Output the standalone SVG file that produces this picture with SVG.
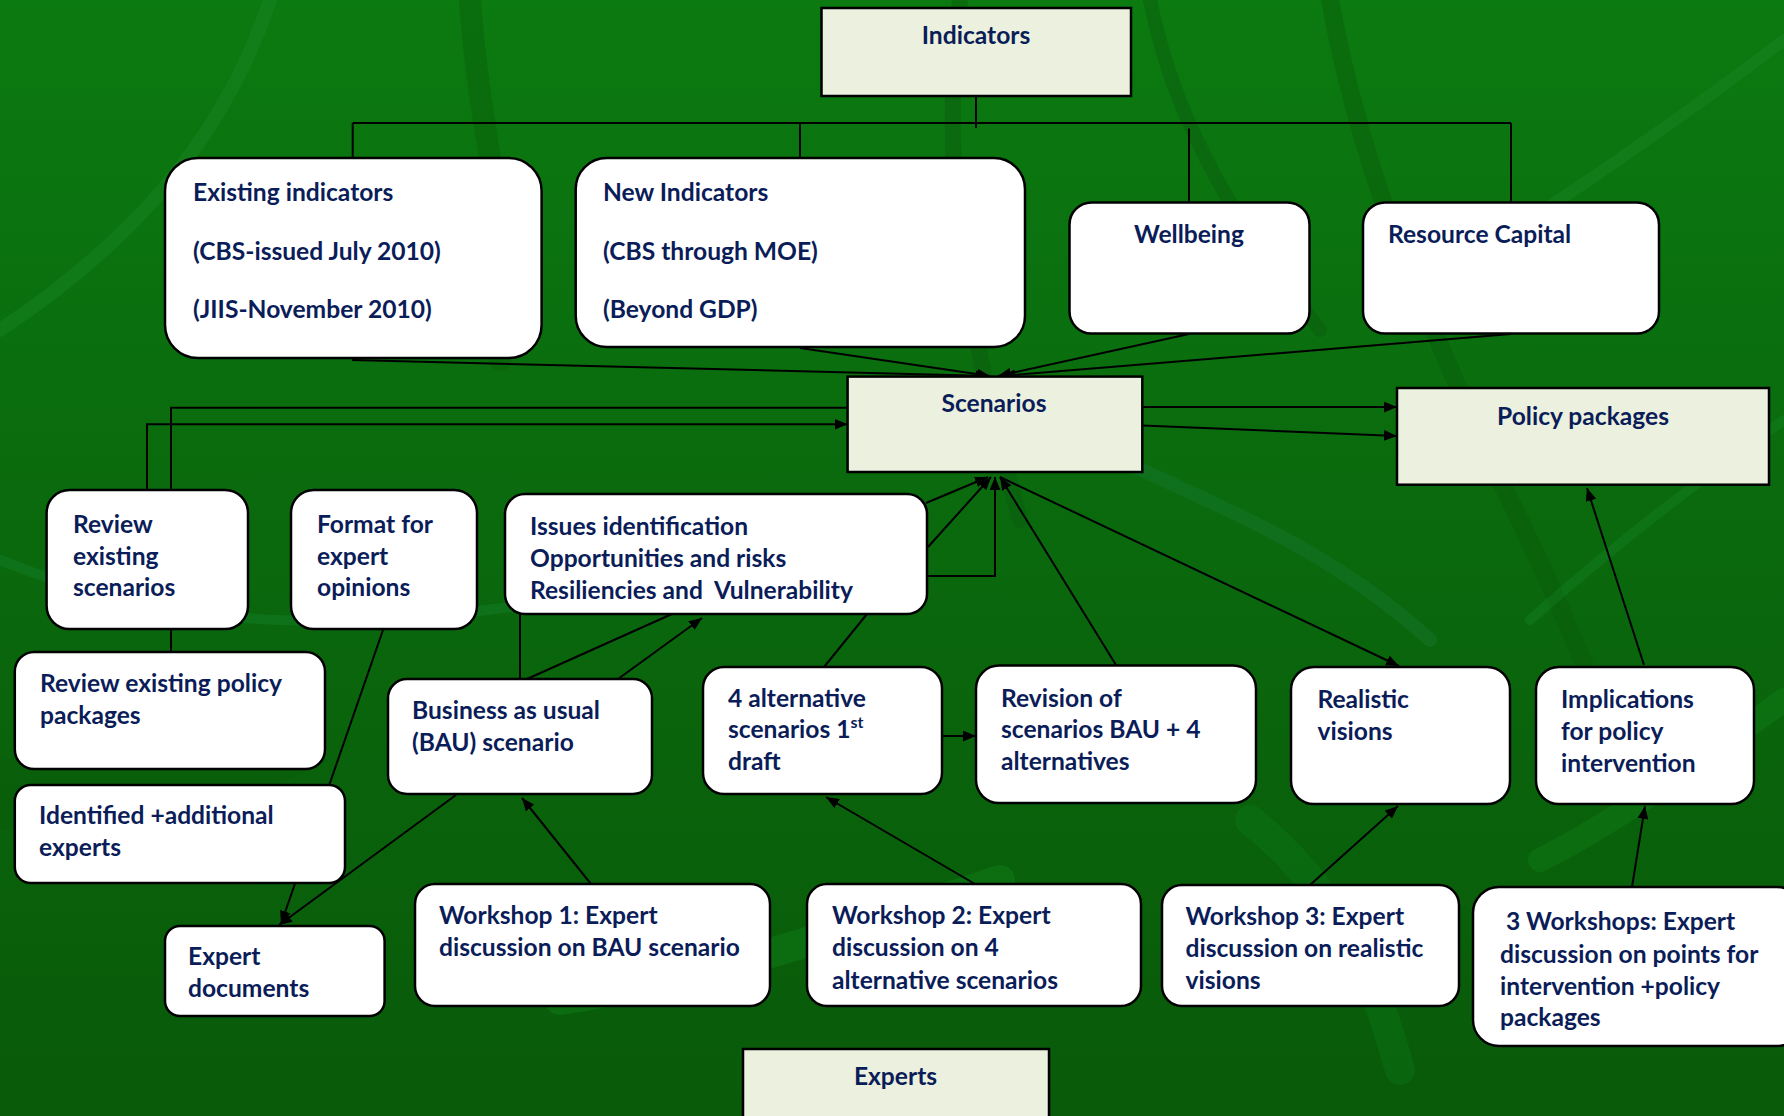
<svg xmlns="http://www.w3.org/2000/svg" width="1784" height="1116" viewBox="0 0 1784 1116">
<defs>
<linearGradient id="bg" x1="0" y1="0" x2="0" y2="1">
<stop offset="0" stop-color="#0b7a10"/>
<stop offset="0.5" stop-color="#0a680d"/>
<stop offset="1" stop-color="#095a09"/>
</linearGradient>
<marker id="arr" viewBox="0 0 12 10" refX="12" refY="5" markerWidth="13" markerHeight="11" markerUnits="userSpaceOnUse" orient="auto">
<path d="M0,0 L12,5 L0,10 Z" fill="#000"/>
</marker>
<style>
.t{font-family:"Lato","Open Sans","Liberation Sans",sans-serif;font-weight:700;font-size:24.6px;fill:#0b1d58}
.c{text-anchor:middle}
.sq{fill:#ebf1de;stroke:#000;stroke-width:2.5}
.rr{fill:#fff;stroke:#000;stroke-width:2.5}
.ln{fill:none;stroke:#000;stroke-width:2}
.a{marker-end:url(#arr)}
.leaf{fill:none;stroke-linecap:round}
</style>
</defs>
<g id="background">
<rect width="1784" height="1116" fill="url(#bg)"/>
<path class="leaf" d="M0,330 C120,250 220,150 270,0" stroke="#1c8a2c" stroke-width="14" opacity="0.35"/>
<path class="leaf" d="M470,0 C480,150 520,260 500,360" stroke="#0a5c0a" stroke-width="22" opacity="0.4"/>
<path class="leaf" d="M960,0 C940,160 960,300 1020,520" stroke="#0a5a10" stroke-width="16" opacity="0.45"/>
<path class="leaf" d="M1150,0 C1180,150 1260,250 1320,330" stroke="#0a5a10" stroke-width="14" opacity="0.45"/>
<path class="leaf" d="M1330,0 C1360,160 1400,260 1500,480 C1560,600 1600,700 1620,760" stroke="#0a5a0a" stroke-width="18" opacity="0.4"/>
<path class="leaf" d="M1784,40 C1680,120 1560,200 1440,280" stroke="#1c8a2c" stroke-width="12" opacity="0.35"/>
<path class="leaf" d="M1100,450 C1200,500 1320,540 1430,640" stroke="#1a7a3a" stroke-width="14" opacity="0.35"/>
<path class="leaf" d="M1784,420 C1700,480 1620,540 1530,620" stroke="#1c8a2c" stroke-width="10" opacity="0.3"/>
<path d="M0,760 L180,740 L330,760 L200,820 L0,830 Z" fill="#0a5a0a" opacity="0.35"/>
<path class="leaf" d="M0,560 C150,620 300,640 560,600" stroke="#1a8a3a" stroke-width="10" opacity="0.3"/>
<path class="leaf" d="M560,1000 C700,980 850,930 1000,880" stroke="#138a1e" stroke-width="30" opacity="0.35"/>
<path class="leaf" d="M1250,820 C1350,900 1380,1000 1400,1070" stroke="#0c7a1a" stroke-width="30" opacity="0.35"/>
<path class="leaf" d="M1784,700 C1700,760 1620,820 1540,860" stroke="#138a1e" stroke-width="24" opacity="0.3"/>
</g>
<g id="connectors">
<path class="ln" d="M976,96 V128"/>
<path class="ln" d="M352.7,123 H1511"/>
<path class="ln" d="M352.7,123 V158"/>
<path class="ln" d="M800,123 V158"/>
<path class="ln" d="M1189,128.5 V202.5"/>
<path class="ln" d="M1511,123 V202.5"/>
<path class="ln a" d="M352,360 L989,376"/>
<path class="ln a" d="M800,348 L990,376"/>
<path class="ln a" d="M1189,334 L998,376"/>
<path class="ln a" d="M1511,334 L1002,376"/>
<path class="ln a" d="M1142,407 L1397,407"/>
<path class="ln a" d="M1142,425.5 L1397,436"/>
<path class="ln a" d="M147,490 V424.3 H847.6"/>
<path class="ln" d="M171,652 V407.7 H847.6"/>
<path class="ln a" d="M383,630 L281,924"/>
<path class="ln a" d="M456,795 L279,925"/>
<path class="ln" d="M520,679 V614"/>
<path class="ln" d="M527,679 L672,614"/>
<path class="ln a" d="M618,679 L702,618"/>
<path class="ln" d="M824,667 L867,614"/>
<path class="ln a" d="M926,503 L988,477"/>
<path class="ln a" d="M928,547 L991,477"/>
<path class="ln a" d="M928,576 H995 V477"/>
<path class="ln a" d="M1116,665 L1000,477"/>
<path class="ln a" d="M1000,477 L1399,666"/>
<path class="ln a" d="M1644,665 L1587,488"/>
<path class="ln a" d="M942,736 L976,736"/>
<path class="ln a" d="M591,884 L522,798"/>
<path class="ln a" d="M975,884 L826,797"/>
<path class="ln a" d="M1310,885 L1398,806"/>
<path class="ln a" d="M1632,887 L1645,806"/>
</g>
<g id="indicators">
<rect class="sq" x="821.5" y="8" width="309.5" height="88"/>
<text class="t c" x="976" y="43.5">Indicators</text>
</g>
<g id="existing-indicators">
<rect class="rr" x="165" y="158" width="376.6" height="200" rx="33"/>
<text class="t" x="193" y="200.5">Existing indicators</text>
<text class="t" x="193" y="259.5">(CBS-issued July 2010)</text>
<text class="t" x="193" y="317.5">(JIIS-November 2010)</text>
</g>
<g id="new-indicators">
<rect class="rr" x="575.7" y="158" width="449.3" height="189" rx="31"/>
<text class="t" x="603" y="200.5">New Indicators</text>
<text class="t" x="603" y="259.5">(CBS through MOE)</text>
<text class="t" x="603" y="317.5">(Beyond GDP)</text>
</g>
<g id="wellbeing">
<rect class="rr" x="1069.5" y="202.5" width="240" height="131" rx="22"/>
<text class="t c" x="1189" y="242.5">Wellbeing</text>
</g>
<g id="resource-capital">
<rect class="rr" x="1363" y="202.5" width="296" height="131" rx="22"/>
<text class="t" x="1388" y="242.5">Resource Capital</text>
</g>
<g id="scenarios">
<rect class="sq" x="847.6" y="376.6" width="294.7" height="95.4"/>
<text class="t c" x="994" y="412">Scenarios</text>
</g>
<g id="policy-packages">
<rect class="sq" x="1397" y="388" width="372" height="96.7"/>
<text class="t c" x="1583" y="424.5">Policy packages</text>
</g>
<g id="review-existing-scenarios">
<rect class="rr" x="46.6" y="490" width="201.4" height="139" rx="23"/>
<text class="t" x="73" y="532.5">Review</text>
<text class="t" x="73" y="564.5">existing</text>
<text class="t" x="73" y="596">scenarios</text>
</g>
<g id="format-expert-opinions">
<rect class="rr" x="291" y="490" width="186" height="139" rx="23"/>
<text class="t" x="317" y="532.5">Format for</text>
<text class="t" x="317" y="564.5">expert</text>
<text class="t" x="317" y="596">opinions</text>
</g>
<g id="issues-identification">
<rect class="rr" x="505" y="494" width="422" height="120" rx="20"/>
<text class="t" x="530" y="535">Issues identification</text>
<text class="t" x="530" y="566.6">Opportunities and risks</text>
<text class="t" x="530" y="598.5" style="white-space:pre">Resiliencies and  Vulnerability</text>
</g>
<g id="review-existing-policy-packages">
<rect class="rr" x="14.8" y="652" width="310.2" height="117" rx="19.5"/>
<text class="t" x="40" y="692">Review existing policy</text>
<text class="t" x="40" y="723.7">packages</text>
</g>
<g id="identified-additional-experts">
<rect class="rr" x="14.8" y="785" width="330.2" height="98" rx="16"/>
<text class="t" x="39" y="824">Identified +additional</text>
<text class="t" x="39" y="855.6">experts</text>
</g>
<g id="business-as-usual">
<rect class="rr" x="388" y="679" width="264" height="115" rx="19"/>
<text class="t" x="412" y="719">Business as usual</text>
<text class="t" x="412" y="751">(BAU) scenario</text>
</g>
<g id="four-alternative-scenarios">
<rect class="rr" x="703" y="667" width="239" height="127" rx="21"/>
<text class="t" x="728" y="706.6">4 alternative</text>
<text class="t" x="728" y="738.4">scenarios 1<tspan font-size="16" dy="-10">st</tspan></text>
<text class="t" x="728" y="770.3">draft</text>
</g>
<g id="revision-of-scenarios">
<rect class="rr" x="976" y="665.6" width="280" height="137.4" rx="23"/>
<text class="t" x="1001" y="706.6">Revision of</text>
<text class="t" x="1001" y="738.4">scenarios BAU + 4</text>
<text class="t" x="1001" y="770.3">alternatives</text>
</g>
<g id="realistic-visions">
<rect class="rr" x="1291" y="667" width="219" height="137" rx="23"/>
<text class="t" x="1317.5" y="707.7">Realistic</text>
<text class="t" x="1317.5" y="739.6">visions</text>
</g>
<g id="implications-policy-intervention">
<rect class="rr" x="1536" y="667" width="218" height="137" rx="23"/>
<text class="t" x="1561" y="707.7">Implications</text>
<text class="t" x="1561" y="739.6">for policy</text>
<text class="t" x="1561" y="771.5">intervention</text>
</g>
<g id="expert-documents">
<rect class="rr" x="165" y="926" width="219.6" height="90" rx="15"/>
<text class="t" x="188" y="965">Expert</text>
<text class="t" x="188" y="996.7">documents</text>
</g>
<g id="workshop-1">
<rect class="rr" x="415" y="884" width="355" height="122" rx="20"/>
<text class="t" x="439" y="924">Workshop 1: Expert</text>
<text class="t" x="439" y="955.8">discussion on BAU scenario</text>
</g>
<g id="workshop-2">
<rect class="rr" x="807" y="884" width="334" height="122" rx="20"/>
<text class="t" x="832" y="924">Workshop 2: Expert</text>
<text class="t" x="832" y="955.8">discussion on 4</text>
<text class="t" x="832" y="988.8">alternative scenarios</text>
</g>
<g id="workshop-3">
<rect class="rr" x="1162" y="885" width="297" height="121" rx="20"/>
<text class="t" x="1185.5" y="925">Workshop 3: Expert</text>
<text class="t" x="1185.5" y="957">discussion on realistic</text>
<text class="t" x="1185.5" y="988.8">visions</text>
</g>
<g id="three-workshops">
<rect class="rr" x="1473" y="887" width="330" height="159" rx="26"/>
<text class="t" x="1506" y="929.6">3 Workshops: Expert</text>
<text class="t" x="1500" y="962.6">discussion on points for</text>
<text class="t" x="1500" y="994.5">intervention +policy</text>
<text class="t" x="1500" y="1026.3">packages</text>
</g>
<g id="experts">
<rect class="sq" x="743" y="1049" width="306" height="80"/>
<text class="t c" x="895.5" y="1084.5">Experts</text>
</g>
</svg>
